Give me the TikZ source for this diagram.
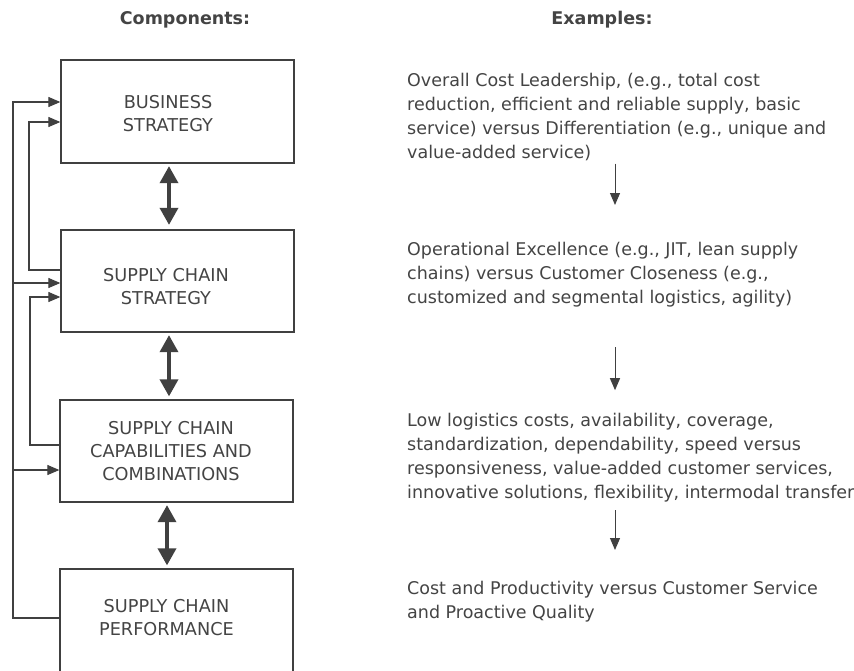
\documentclass[tikz,border=0pt]{standalone}
\usepackage{fontspec}
\setmainfont{DejaVu Sans}
\usetikzlibrary{arrows.meta}
\definecolor{ink}{HTML}{444444}
\definecolor{linec}{HTML}{404040}
\tikzset{
  box/.style={draw=linec, line width=1.3pt, minimum width=233pt, inner sep=0pt},
  boxtext/.style={text=ink, align=center, inner sep=0pt, font=\fontsize{17.7}{23}\selectfont},
  extext/.style={text=ink, align=left, anchor=north west, inner sep=0pt, font=\fontsize{17.5}{24}\selectfont},
  head/.style={text=ink, inner sep=0pt, font=\bfseries\fontsize{17.5}{21}\selectfont},
  fb/.style={draw=linec, line width=1.1pt, -{Triangle[length=12pt,width=10pt]}},
  dbl/.style={draw=linec, line width=3.5pt, {Triangle[length=17pt,width=18pt]}-{Triangle[length=17pt,width=18pt]}},
  rarrow/.style={draw=linec, line width=1pt, -{Triangle[length=12pt,width=10pt]}}
}
\begin{document}
\begin{tikzpicture}[x=1pt,y=-1pt]
\useasboundingbox[fill=white] (0,0) rectangle (854,670);
% headers
\node[head] (hc) at (185,20) {Components:};
\node[head] (he) at (602,20) {Examples:};
% boxes
\node[box, minimum height=103pt] (b1) at (177.5,111.5) {};
\node[box, minimum height=102pt] (b2) at (177.5,281) {};
\node[box, minimum height=102pt] (b3) at (176.5,451) {};
\node[box, minimum height=106pt] (b4) at (176.5,622) {};
\node[boxtext] (t1) at (168,113.5) {BUSINESS\\STRATEGY};
\node[boxtext] (t2) at (166,286.5) {SUPPLY CHAIN\\STRATEGY};
\node[boxtext] (t3) at (171,451) {SUPPLY CHAIN\\CAPABILITIES AND\\COMBINATIONS};
\node[boxtext] (t4) at (166.5,617.5) {SUPPLY CHAIN\\PERFORMANCE};
% double arrows
\coordinate (ax1) at (169,0);
\coordinate (ax3) at (167,0);
\draw[dbl, shorten <=2.5pt, shorten >=4.5pt] (b1.south -| ax1) -- (b2.north -| ax1);
\draw[dbl, shorten <=2.5pt, shorten >=3pt] (b2.south -| ax1) -- (b3.north -| ax1);
\draw[dbl, shorten <=2.5pt, shorten >=3pt] (b3.south -| ax3) -- (b4.north -| ax3);
% feedback lines
\draw[fb] (b4.west |- 0,618) -- (13,618) -- (13,102) -- (b1.west |- 0,102);
\draw[fb] (13,283) -- (b2.west |- 0,283);
\draw[fb] (13,470) -- (b3.west |- 0,470);
\draw[fb] (b2.west |- 0,270) -- (29,270) -- (29,122) -- (b1.west |- 0,122);
\draw[fb] (b3.west |- 0,445) -- (30,445) -- (30,297) -- (b2.west |- 0,297);
% examples
\node[extext] (e1) at (407,72.5) {Overall Cost Leadership, (e.g., total cost\\reduction, efficient and reliable supply, basic\\service) versus Differentiation (e.g., unique and\\value-added service)};
\node[extext] (e2) at (407,242) {Operational Excellence (e.g., JIT, lean supply\\chains) versus Customer Closeness (e.g.,\\customized and segmental logistics, agility)};
\node[extext] (e3) at (407,412.7) {Low logistics costs, availability, coverage,\\standardization, dependability, speed versus\\responsiveness, value-added customer services,\\innovative solutions, flexibility, intermodal transfer};
\node[extext] (e4) at (407,581) {Cost and Productivity versus Customer Service\\and Proactive Quality};
\coordinate (rx) at (615,0);
\draw[rarrow, shorten <=3pt, shorten >=37pt] (e1.south -| rx) -- (e2.north -| rx);
\draw[rarrow, shorten <=40pt, shorten >=22.5pt] (e2.south -| rx) -- (e3.north -| rx);
\draw[rarrow, shorten <=8pt, shorten >=31pt] (e3.south -| rx) -- (e4.north -| rx);
\end{tikzpicture}
\end{document}
